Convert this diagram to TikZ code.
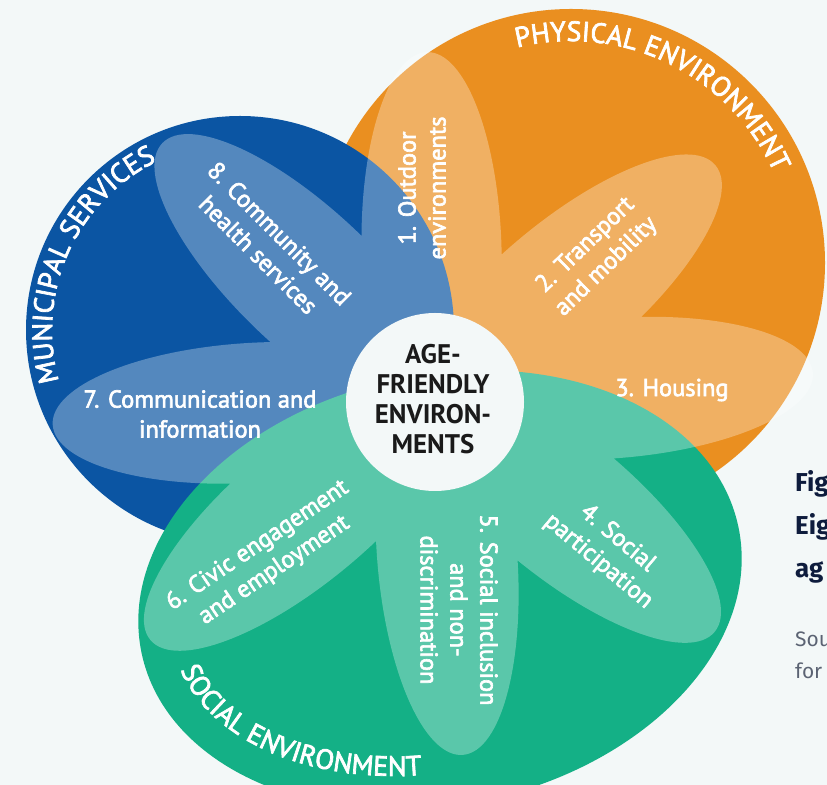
\documentclass[tikz,border=0pt]{standalone}
\usepackage{fontspec}
\setmainfont{PT Sans}
\newfontfamily\petalfont{PT Sans}[FakeBold=2.6]
\newfontfamily\headfont{Fira Sans}
\usetikzlibrary{decorations.text}

\definecolor{bgcol}{HTML}{F3F8F8}
\definecolor{muniblue}{HTML}{0B55A3}
\definecolor{physorange}{HTML}{EA8F20}
\definecolor{socgreen}{HTML}{14B086}
\definecolor{hubink}{HTML}{1A1A1A}
\definecolor{headnavy}{HTML}{0E1C3D}
\definecolor{srcgray}{HTML}{5B6373}

\begin{document}
\begin{tikzpicture}[
        x=1bp, y=1bp,
        petal/.style={fill=white, fill opacity=0.3},
        lbl/.style={text=white, align=center, inner sep=0pt, font=\petalfont\fontsize{24.5}{30}\selectfont},
        hub/.style={circle, fill=bgcol, minimum size=178bp, inner sep=0pt},
        ring/.style={decorate, decoration={text along path, text align=center, text={|\petalfont\fontsize{28}{28}\selectfont\color{white}|#1}}},
        head/.style={anchor=base west, inner sep=0pt, text=headnavy, font=\headfont\bfseries\fontsize{26}{30}\selectfont},
        src/.style={anchor=base west, inner sep=0pt, text=srcgray, font=\headfont\fontsize{21}{30}\selectfont}
    ]

    \useasboundingbox (0,0) rectangle (827,785);
    \fill[bgcol] (0,0) rectangle (827,785);

    % centres of the three domains and of the flower
    \coordinate (C) at (435,383);
    \coordinate (B) at (240,455);
    \coordinate (O) at (571,522);
    \coordinate (G) at (440,195);

    % Domains
    \fill[physorange] (O) circle[radius=254];
    \fill[muniblue] (B) circle[radius=214];
    \fill[socgreen] (G) circle[x radius=305, y radius=215, rotate=12];

    % Petals (one path, so the overlaps stay even)
    \fill[petal] foreach \ang/\off in {91.3/150, 40.2/167, 4.4/179, -39.4/162, -85.5/154, 219.9/171, 183.4/183, 136.5/176}
        { (C) ++(\ang:\off) circle[x radius=200, y radius=70, rotate=\ang] };

    % Domain titles
    \path[ring=PHYSICAL ENVIRONMENT] (O) ++(119:222) arc[start angle=119, end angle=9, radius=222];
    \path[ring=MUNICIPAL SERVICES] (B) ++(216:188) arc[start angle=216, end angle=96, radius=188];
    \path[ring=SOCIAL ENVIRONMENT] plot[domain=170:270, samples=60, variable=\t]
        ({440 + 273*cos(\t)*cos(12) - 181*sin(\t)*sin(12)}, {195 + 273*cos(\t)*sin(12) + 181*sin(\t)*cos(12)});

    % Hub
    \node[hub] (hubdisc) at (C) {};
    \node[align=center, text=hubink, inner sep=0pt, font=\bfseries\fontsize{27}{30}\selectfont] (hubwords) at (433,386) {AGE-\\FRIENDLY\\ENVIRON-\\MENTS};

    % Eight domains
    \node[lbl, rotate=90] (outdoor) at (422,597) {1. Outdoor\\environments};
    \node[lbl, rotate=44] (transport) at (596,529) {2. Transport\\and mobility};
    \node[lbl] (housing) at (672,395) {3. Housing};
    \node[lbl, rotate=-40] (participation) at (608,235) {4. Social\\participation};
    \node[lbl, rotate=-90] (inclusion) at (459,175) {5. Social inclusion\\and non-\\discrimination};
    \node[lbl, rotate=34] (civic) at (266,227) {6. Civic engagement\\and employment};
    \node[lbl] (communication) at (200,371) {7. Communication and\\information};
    \node[lbl, rotate=-45] (community) at (269,541) {8. Community and\\health services};

    % Caption, cut by the page edge
    \node[head] (capA) at (795,293) {Fig};
    \node[head] (capB) at (795,250) {Eig};
    \node[head] (capC) at (795,207) {ag};
    \node[src] (srcA) at (795,138) {Sou};
    \node[src] (srcB) at (795,106) {for};

\end{tikzpicture}
\end{document}
